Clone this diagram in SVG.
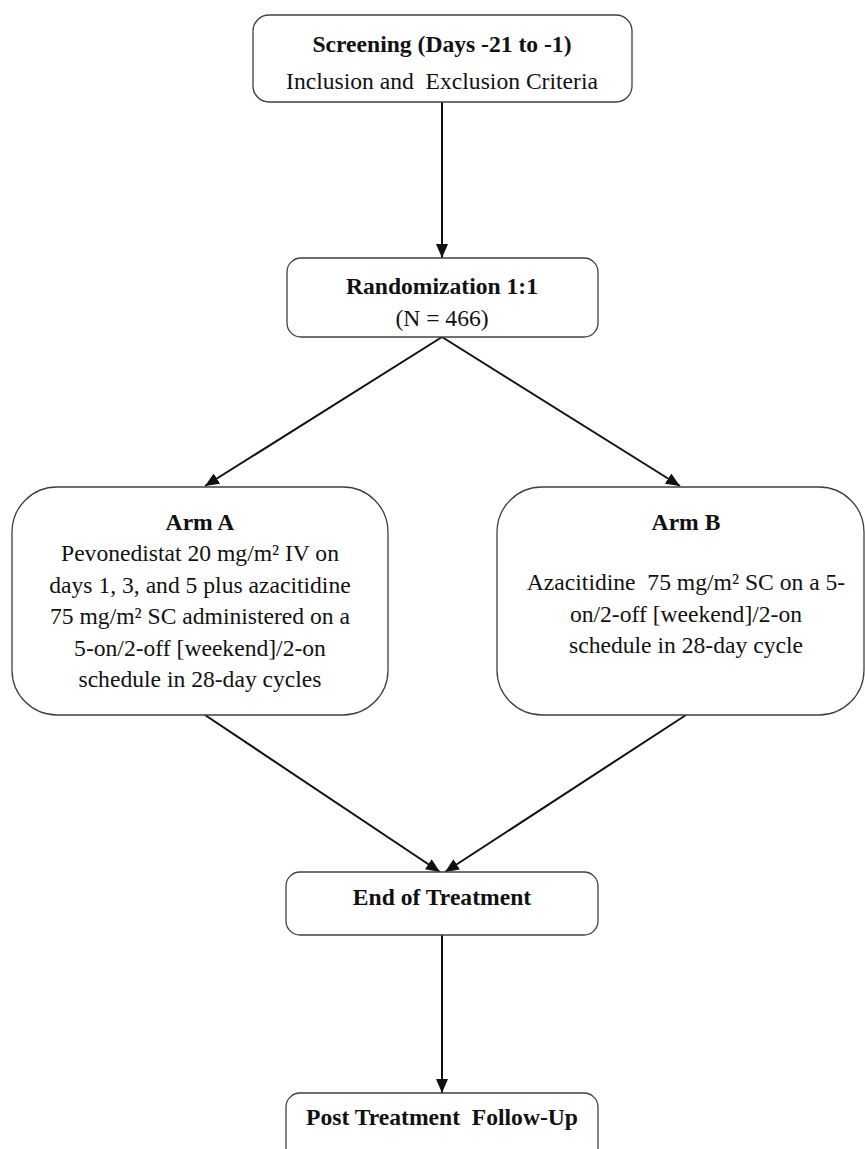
<svg xmlns="http://www.w3.org/2000/svg" width="865" height="1149" viewBox="0 0 865 1149">
<style>
.box{fill:#fff;stroke:#404040;stroke-width:1.3}
.t{font-family:"Liberation Serif","Times New Roman",serif;font-size:23.6px;fill:#111;text-anchor:middle}
.b{font-weight:bold}
.c{stroke:#111;stroke-width:2;fill:none}
</style>
<defs>
<marker id="ah" viewBox="0 0 14 12" refX="14" refY="6" markerWidth="14" markerHeight="12" markerUnits="userSpaceOnUse" orient="auto">
<path d="M0,0 L14,6 L0,12 Z" fill="#111"/>
</marker>
</defs>
<rect width="865" height="1149" fill="#fff"/>
<g id="connectors">
<line class="c" x1="442" y1="102" x2="442" y2="258" marker-end="url(#ah)"/>
<line class="c" x1="442" y1="337" x2="205" y2="486" marker-end="url(#ah)"/>
<line class="c" x1="442" y1="337" x2="680" y2="486" marker-end="url(#ah)"/>
<line class="c" x1="205" y1="715" x2="440" y2="872" marker-end="url(#ah)"/>
<line class="c" x1="686" y1="715" x2="445" y2="872" marker-end="url(#ah)"/>
<line class="c" x1="442" y1="935" x2="442" y2="1093" marker-end="url(#ah)"/>
</g>
<g id="screening">
<rect class="box" x="253" y="15" width="379" height="87" rx="16"/>
<text class="t b" x="442" y="52">Screening (Days -21 to -1)</text>
<text class="t" x="442" y="89" xml:space="preserve">Inclusion and  Exclusion Criteria</text>
</g>
<g id="randomization">
<rect class="box" x="287" y="258" width="311" height="79" rx="14"/>
<text class="t b" x="442" y="294">Randomization 1:1</text>
<text class="t" x="442" y="326">(N = 466)</text>
</g>
<g id="armA">
<rect class="box" x="12" y="487" width="376" height="228" rx="45"/>
<text class="t b" x="200" y="530">Arm A</text>
<text class="t" x="200" y="561">Pevonedistat 20 mg/m² IV on</text>
<text class="t" x="200" y="593">days 1, 3, and 5 plus azacitidine</text>
<text class="t" x="200" y="624">75 mg/m² SC administered on a</text>
<text class="t" x="200" y="656">5-on/2-off [weekend]/2-on</text>
<text class="t" x="200" y="687">schedule in 28-day cycles</text>
</g>
<g id="armB">
<rect class="box" x="497" y="487" width="367" height="228" rx="45"/>
<text class="t b" x="686" y="530">Arm B</text>
<text class="t" x="686" y="590" xml:space="preserve">Azacitidine  75 mg/m² SC on a 5-</text>
<text class="t" x="686" y="622">on/2-off [weekend]/2-on</text>
<text class="t" x="686" y="653">schedule in 28-day cycle</text>
</g>
<g id="endOfTreatment">
<rect class="box" x="286" y="872" width="312" height="63" rx="14"/>
<text class="t b" x="442" y="905">End of Treatment</text>
</g>
<g id="followUp">
<rect class="box" x="286" y="1093" width="312" height="80" rx="14"/>
<text class="t b" x="442" y="1125" xml:space="preserve">Post Treatment  Follow-Up</text>
</g>
</svg>
